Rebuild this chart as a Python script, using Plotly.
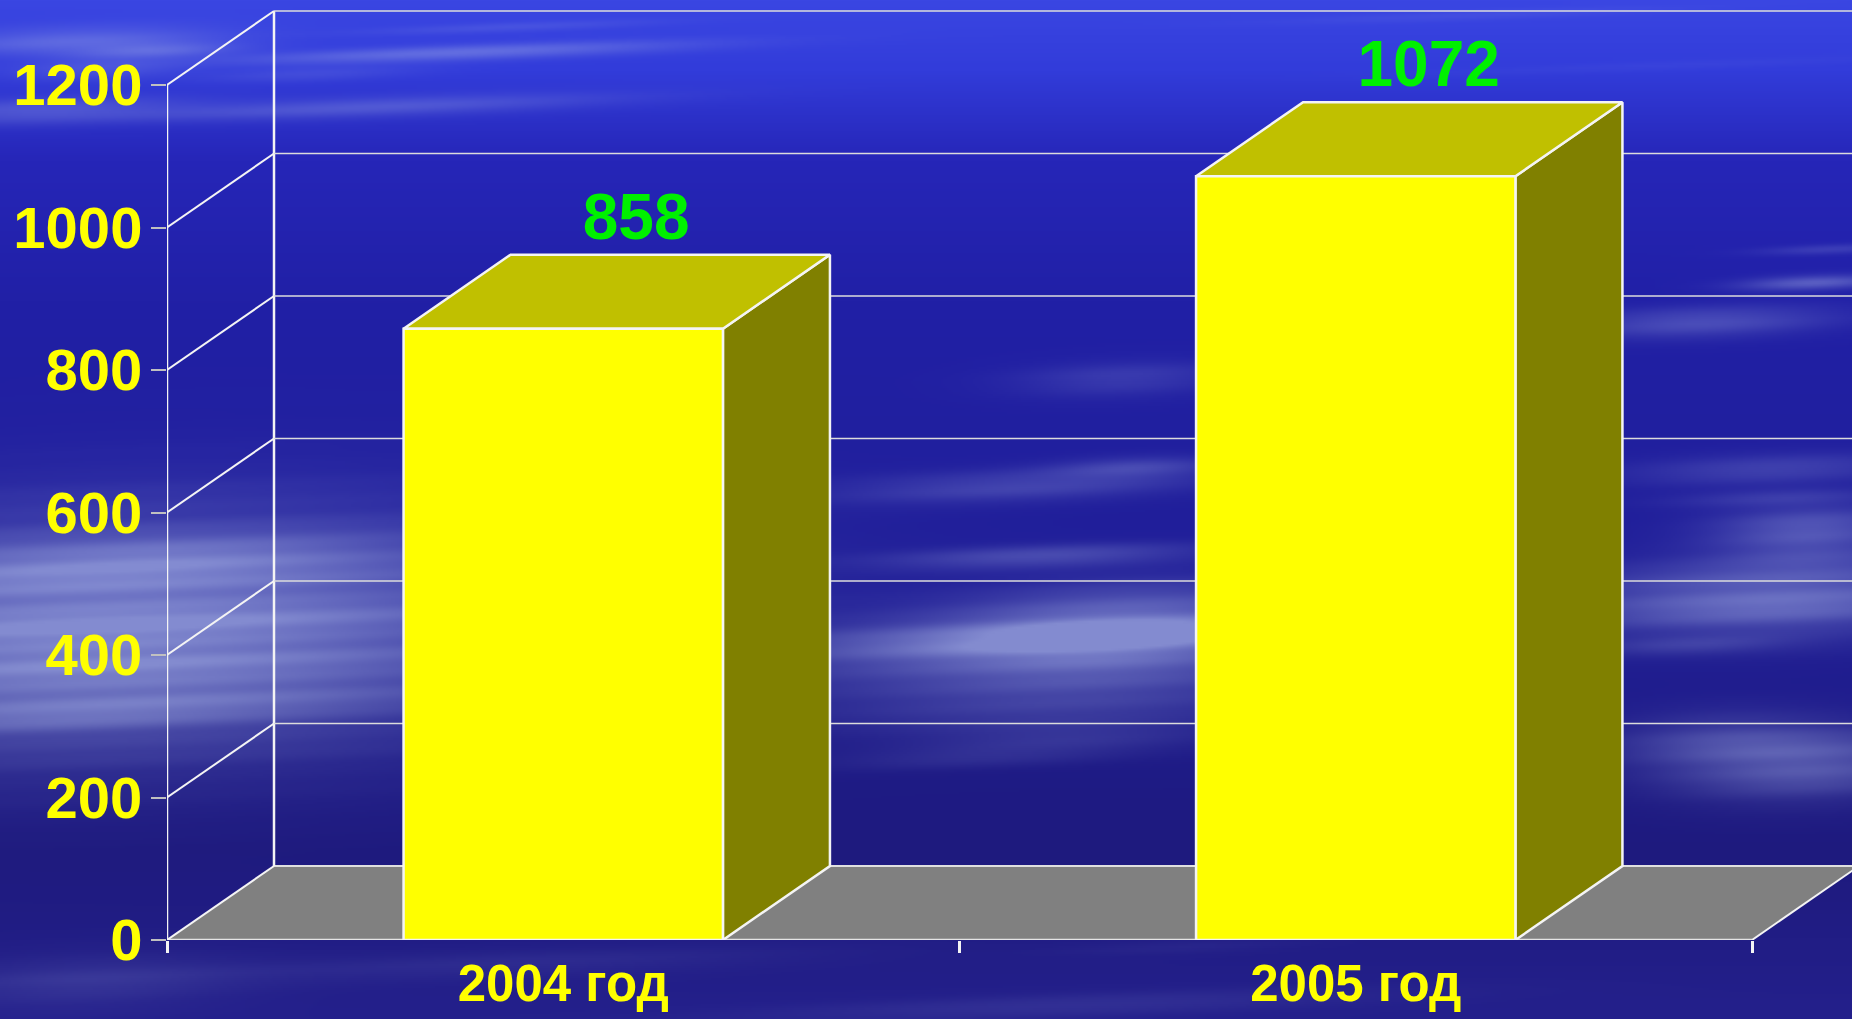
import base64, struct, zlib
import numpy as np
import plotly.graph_objects as go

# ---- data ----
years = ["2004 год", "2005 год"]
values = [858, 1072]
y_ticks = [0, 200, 400, 600, 800, 1000, 1200]

# ---- layout constants ----
W, H = 1852, 1019
LEFT, BOTTOM = 167, 79
X_UNIT = 792.5      # px per category
Y_UNIT = 0.7125     # px per value unit
DX = 107 / X_UNIT   # oblique depth in data units
DY = 74 / Y_UNIT
BAR_W = 0.403
x0 = -0.5
x_end = x0 + (W - LEFT) / X_UNIT
x_front_end = 1.5
y_top = (H - BOTTOM) / Y_UNIT
LINE = "#f4f4f4"

# ---- decorative sky background (drawn as an image behind the plot) ----
def make_background():
    s = 2
    w, h = W // s, H // s
    yy, xx = np.mgrid[0:h, 0:w].astype(float)
    yy *= s; xx *= s
    stops_y = [0, 70, 160, 300, 600, 850, 1019]
    r = np.interp(yy, stops_y, [58, 50, 38, 33, 32, 30, 36])
    g = np.interp(yy, stops_y, [70, 60, 38, 32, 30, 26, 32])
    b = np.interp(yy, stops_y, [226, 218, 184, 166, 150, 126, 140])
    # wisps: centre x, centre y, half width, half height, strength (px of 1568-wide view)
    wisps = [
        (60, 33, 120, 11, .34), (130, 42, 70, 6, .30), (390, 44, 190, 6, .42), (310, 90, 200, 8, .30),
        (30, 93, 120, 10, .28), (80, 58, 70, 8, .22), (430, 22, 120, 4, .14), (260, 62, 90, 6, .14),
        (1400, 55, 200, 4, .06), (1250, 12, 160, 4, .10),
        # big bank, left
        (90, 535, 360, 90, .72), (40, 478, 260, 14, .18), (170, 468, 170, 12, .16),
        (130, 590, 260, 14, .12), (50, 610, 190, 12, .12),
        # middle bank
        (960, 530, 150, 34, .50), (860, 545, 200, 24, .50), (900, 590, 200, 24, .26),
        (860, 410, 150, 12, .26), (960, 395, 70, 9, .22), (880, 470, 130, 9, .28), (950, 320, 90, 14, .18),
        (820, 640, 120, 8, .10), (900, 625, 130, 12, .14),
        # right bank
        (1440, 272, 110, 12, .32), (1535, 238, 60, 6, .42), (1500, 505, 170, 30, .52), (1530, 450, 80, 24, .36),
        (1500, 395, 120, 12, .22), (1500, 420, 90, 7, .15), (1530, 645, 110, 28, .40), (1450, 625, 90, 24, .20),
        (1550, 210, 60, 4, .18), (1430, 545, 80, 7, .16),
        # lower glow
        (70, 830, 130, 22, .14), (420, 815, 250, 12, .08), (900, 850, 260, 9, .12), (1000, 800, 100, 6, .05),
    ]
    k = 1852 / 1568
    tilt = -0.035
    a = np.zeros_like(xx)
    for cx, cy, sx, sy, st in wisps:
        a = a + st * np.exp(-((xx - cx * k) / (sx * k)) ** 2
                            - ((yy - cy * k - tilt * (xx - cx * k)) / (sy * k)) ** 2)
    streak = 1 + 0.09 * np.sin((yy + 0.035 * xx) / 7.0) + 0.06 * np.sin((yy + 0.03 * xx) / 3.1 + xx / 300.0)
    a = np.clip(a * streak, 0, .72)[..., None]
    base = np.stack([r, g, b], axis=-1)
    img = base * (1 - a) + np.array([170, 182, 232.0]) * a
    img = np.clip(img, 0, 255).astype(np.uint8)
    raw = b"".join(b"\x00" + row.tobytes() for row in img)
    def chunk(t, d):
        return struct.pack(">I", len(d)) + t + d + struct.pack(">I", zlib.crc32(t + d))
    png = b"\x89PNG\r\n\x1a\n" + chunk(b"IHDR", struct.pack(">IIBBBBB", w, h, 8, 2, 0, 0, 0)) \
        + chunk(b"IDAT", zlib.compress(raw, 9)) + chunk(b"IEND", b"")
    return "data:image/png;base64," + base64.b64encode(png).decode()

fig = go.Figure()

def poly(xs, ys, fill=None, color=LINE, width=2.0, clip=False):
    fig.add_trace(go.Scatter(
        x=xs, y=ys, mode="lines", xaxis="x", yaxis="y", showlegend=False, hoverinfo="skip",
        fill="toself" if fill else None, fillcolor=fill,
        line=dict(color=color, width=width), cliponaxis=clip))

# floor
poly([x0, x0 + DX, x_end + 1, x_front_end + DX, x_front_end, x0],
     [0, DY, DY, DY, 0, 0], fill="#808080", width=0)
poly([x0 + DX, x_end + 1], [DY, DY], color="#e0e0e0", width=2)
poly([x0, x_front_end], [0, 0], color="#e4e4e4", width=2.5)
poly([x0, x0 + DX], [0, DY], width=2)
poly([x_front_end, x_front_end + DX], [0, DY], width=2)
# walls and gridlines
poly([x0 + DX, x0 + DX], [DY, y_ticks[-1] + DY], width=2.5)
for t in y_ticks[1:]:
    poly([x0 + DX, x_end + 1], [t + DY, t + DY], color="#dcdcdc", width=1.6)
    poly([x0, x0 + DX], [t, t + DY], color="#f4f4f4", width=2)
poly([x0, x0], [0, y_ticks[-1]], width=2.5)

# bar faces in depth
for i, v in enumerate(values):
    l, r = i - BAR_W / 2, i + BAR_W / 2
    poly([r, r + DX, r + DX, r, r], [0, DY, v + DY, v, 0], fill="#808000", color=LINE, width=2.5)
    poly([l, l + DX, r + DX, r, l], [v, v + DY, v + DY, v, v], fill="#C0C000", color=LINE, width=2.5)

# value labels
fig.add_trace(go.Scatter(
    x=[i + 0.092 for i in range(len(values))],
    y=[v + DY + 45 for v in values],
    text=[str(v) for v in values], mode="text", xaxis="x", yaxis="y", showlegend=False, hoverinfo="skip",
    textposition="middle center", cliponaxis=False,
    textfont=dict(family="Liberation Sans", size=64, color="#00F000", weight=700)))

# front faces
fig.add_trace(go.Bar(
    x=years, y=values, width=BAR_W, xaxis="x2", yaxis="y", showlegend=False, hoverinfo="skip",
    marker=dict(color="#FFFF00", line=dict(color=LINE, width=2.5))))

fig.update_layout(
    width=W, height=H, autosize=False,
    margin=dict(l=LEFT, r=0, t=0, b=BOTTOM, pad=0),
    paper_bgcolor="#201c88", plot_bgcolor="rgba(0,0,0,0)",
    xaxis=dict(range=[x0, x_end], visible=False, fixedrange=True, automargin=False),
    xaxis2=dict(
        type="category", categoryorder="array", categoryarray=years, overlaying="x", side="bottom", anchor="y",
        range=[x0, x_end], tickson="boundaries", ticks="outside", ticklen=12, tickwidth=2.5, tickcolor=LINE,
        showgrid=False, showline=False, zeroline=False, ticklabelstandoff=9, automargin=False,
        tickfont=dict(family="Liberation Sans", size=51, color="#FFFF00", weight=700)),
    yaxis=dict(
        range=[0, y_top], tickvals=y_ticks, ticks="outside", ticklen=15, tickwidth=2, tickcolor="#c0c0c0",
        showgrid=False, showline=False, zeroline=False, ticklabelstandoff=-3, automargin=False,
        tickfont=dict(family="Liberation Sans", size=58, color="#FFFF00", weight=700)),
    images=[dict(source=make_background(), xref="paper", yref="paper", layer="below", sizing="stretch",
                 x=-LEFT / (W - LEFT), y=1, sizex=W / (W - LEFT), sizey=H / (H - BOTTOM),
                 xanchor="left", yanchor="top")],
)
fig.write_html("out.html", config=dict(displayModeBar=False),
               post_script="document.body.style.margin='0';document.body.style.overflow='hidden';")
